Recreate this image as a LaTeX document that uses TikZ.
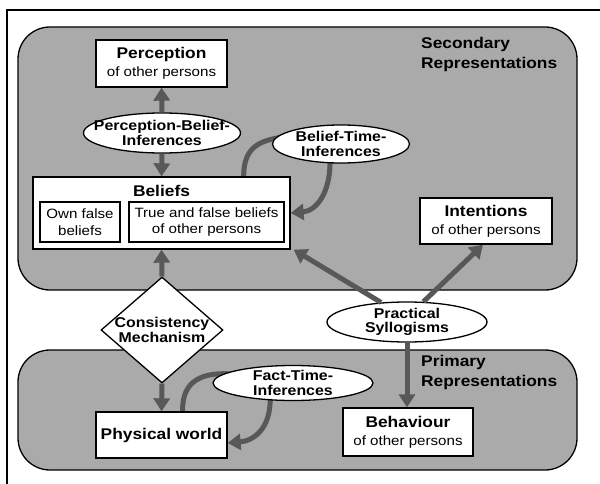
\documentclass[tikz,border=0pt]{standalone}
\usepackage{fontspec}
\setmainfont[FakeStretch=1.12]{Liberation Sans}
\usetikzlibrary{shapes.geometric,arrows.meta}
\definecolor{panel}{RGB}{170,170,170}
\definecolor{arrowc}{RGB}{88,88,88}
\newcommand\tfont{\fontsize{15.5}{18}\selectfont\bfseries}
\newcommand\sfont{\fontsize{13.5}{18}\selectfont}
\newcommand\efont{\fontsize{14.2}{14.5}\selectfont\bfseries}
\pgfdeclarelayer{bg}
\pgfdeclarelayer{mid}
\pgfsetlayers{bg,mid,main}
\begin{document}
\begin{tikzpicture}[x=1pt,y=-1pt,
  box/.style={draw, fill=white, line width=1.3pt, inner sep=0pt, align=center},
  ell/.style={ellipse, draw, fill=white, line width=1.3pt, inner sep=0pt},
  lbl/.style={align=center, font=\efont, inner sep=0pt},
  arr/.style={color=arrowc, line width=5pt, -{Triangle[width=16pt,length=13pt]}},
  tail/.style={color=arrowc, line width=5pt},
  panelbox/.style={fill=panel, draw=black, line width=1.3pt, rounded corners=32pt},
  paneltext/.style={anchor=north west, align=left, inner sep=0pt, font=\fontsize{15.5}{20}\selectfont\bfseries}]
\useasboundingbox (0,0) rectangle (600,484);
\draw[line width=1.8pt] (7,484) -- (7,10) -- (600,10);

\begin{pgfonlayer}{bg}
\draw[panelbox] (18,27) rectangle (577,290);
\draw[panelbox] (18,350) rectangle (577,470);
\end{pgfonlayer}

\node[paneltext] (sec) at (421,37) {Secondary\\Representations};
\node[paneltext] (pri) at (421,355) {Primary\\Representations};

% boxes
\node[box, minimum width=131pt, minimum height=47pt, font=\sfont] (perc) at (161.5,63.5) {{\tfont Perception}\\of other persons};
\node[box, minimum width=257pt, minimum height=72pt] (bel) at (161.5,213) {};
\node[font=\tfont, inner sep=0pt] (belT) at (161.5,191) {Beliefs};
\node[box, minimum width=80pt, minimum height=40pt, font=\fontsize{13.5}{16.5}\selectfont] (own) at (80,222) {Own false\\beliefs};
\node[box, minimum width=155pt, minimum height=40pt, font=\fontsize{13.5}{16.5}\selectfont] (taf) at (206.5,222) {True and false beliefs\\of other persons};
\node[box, minimum width=132pt, minimum height=46pt, font=\sfont] (int) at (486,221) {{\tfont Intentions}\\of other persons};
\node[box, minimum width=130pt, minimum height=48pt, font=\sfont] (beh) at (408,432) {{\tfont Behaviour}\\of other persons};
\node[box, minimum width=131pt, minimum height=46pt, font=\tfont] (phys) at (161.5,435) {Physical world};

% ellipses and diamond
\node[ell, minimum width=157pt, minimum height=40pt, label={[lbl]center:Perception-Belief-\\Inferences}] (pbi) at (162,133) {};
\node[ell, minimum width=137pt, minimum height=38pt, label={[lbl]center:Belief-Time-\\Inferences}] (bt) at (341,144) {};
\node[ell, minimum width=160pt, minimum height=40pt, label={[lbl]center:Practical\\Syllogisms}] (ps) at (407,322) {};
\node[ell, minimum width=160pt, minimum height=35pt, label={[lbl]center:Fact-Time-\\Inferences}] (ft) at (293,383) {};
\node[diamond, draw, fill=white, line width=1.3pt, inner sep=0pt, minimum width=122pt, minimum height=106pt, label={[lbl]center:Consistency\\Mechanism}] (cm) at (162,330) {};

% curved arrows (behind the ellipses)
\begin{pgfonlayer}{mid}
\draw[tail] ([xshift=-47pt]bel.north east) .. controls +(0,-30) and +(-22,4) .. (282,137);
\draw[arr] (330,158) .. controls (331,195) and (315,211) .. (bel.east);
\draw[tail] ([xshift=-45pt]phys.north east) .. controls +(-1,-32) and +(-28,-2) .. (232,374);
\draw[arr] (270,395) .. controls (272,430) and (252,441) .. ([yshift=-8pt]phys.east);
\end{pgfonlayer}

% straight arrows
\draw[arr] (pbi.north) -- (perc.south);
\draw[arr] (pbi.south) -- (bel.north);
\draw[arr] (cm.north) -- (bel.south);
\draw[arr] (cm.south) -- (phys.north);
\draw[arr] (ps.143) -- ([xshift=3pt]bel.south east);
\draw[arr] (ps.51) -- ([xshift=-3pt]int.south);
\draw[arr] (ps.south) -- (ps.south |- beh.north);
\end{tikzpicture}
\end{document}
